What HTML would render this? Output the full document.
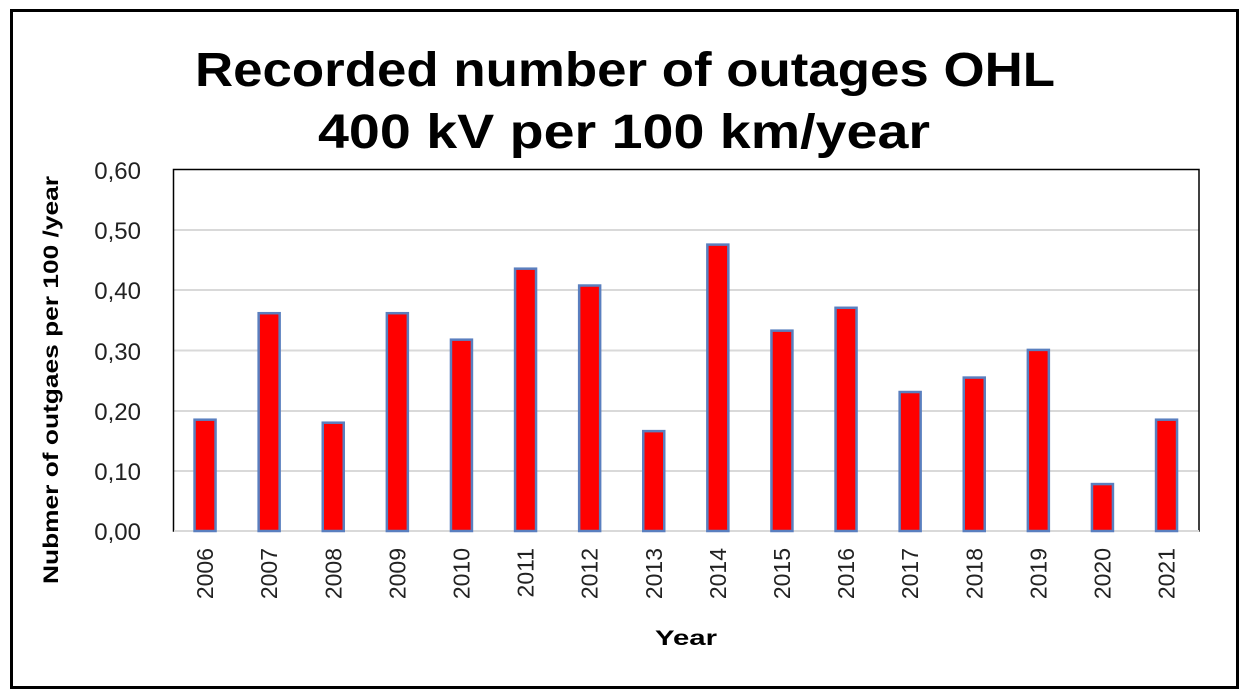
<!DOCTYPE html>
<html><head><meta charset="utf-8"><style>body{margin:0;background:#fff}</style></head><body>
<svg width="1249" height="695" xmlns="http://www.w3.org/2000/svg" font-family="Liberation Sans, sans-serif">
<rect x="0" y="0" width="1249" height="695" fill="#fff"/>
<rect x="11.5" y="10.5" width="1226" height="677" fill="none" stroke="#000" stroke-width="3"/>
<text x="195" y="86" textLength="860" lengthAdjust="spacingAndGlyphs" font-size="48" font-weight="bold">Recorded number of outages OHL</text>
<text x="318" y="148" textLength="612" lengthAdjust="spacingAndGlyphs" font-size="48" font-weight="bold">400 kV per 100 km/year</text>
<g stroke="#d9d9d9" stroke-width="2">
<line x1="174" x2="1199" y1="230" y2="230"/><line x1="174" x2="1199" y1="290" y2="290"/><line x1="174" x2="1199" y1="350.5" y2="350.5"/><line x1="174" x2="1199" y1="411" y2="411"/><line x1="174" x2="1199" y1="471" y2="471"/><line x1="174" x2="1199" y1="531" y2="531"/>
</g>
<rect x="173.5" y="169.5" width="1025.5" height="361.5" fill="none" stroke="#000" stroke-width="1.5"/>
<line x1="174" x2="1199" y1="531" y2="531" stroke="#d9d9d9" stroke-width="2"/>
<g font-size="24" fill="#222" text-anchor="end">
<text x="141" y="179">0,60</text><text x="141" y="239">0,50</text><text x="141" y="299">0,40</text><text x="141" y="360">0,30</text><text x="141" y="420">0,20</text><text x="141" y="480">0,10</text><text x="141" y="540">0,00</text>
</g>
<text transform="translate(58,380) rotate(-90)" text-anchor="middle" font-size="21" font-weight="bold" textLength="408" lengthAdjust="spacingAndGlyphs">Nubmer of outgaes per 100 /year</text>
<g id="bars" fill="#ff0000" stroke="#5a7fbf" stroke-width="2.5"></g>
<g id="labels" font-size="23" fill="#222"></g>
<text x="686" y="645" text-anchor="middle" font-size="21" font-weight="bold" textLength="62" lengthAdjust="spacingAndGlyphs">Year</text>
<script>
var v=[0.185,0.362,0.18,0.362,0.318,0.436,0.408,0.166,0.476,0.333,0.371,0.231,0.255,0.301,0.078,0.185];
var b=document.getElementById('bars'),l=document.getElementById('labels'),ns='http://www.w3.org/2000/svg';
for(var i=0;i<16;i++){var cx=173+64.1*(i+0.5);var h=v[i]/0.6*361;
var r=document.createElementNS(ns,'rect');r.setAttribute('x',cx-10.5);r.setAttribute('y',531-h);r.setAttribute('width',21);r.setAttribute('height',h);b.appendChild(r);
var t=document.createElementNS(ns,'text');t.setAttribute('transform','translate('+(cx+8)+',548) rotate(-90)');t.setAttribute('text-anchor','end');t.textContent=2006+i;l.appendChild(t);}
</script>
</svg>
</body></html>
